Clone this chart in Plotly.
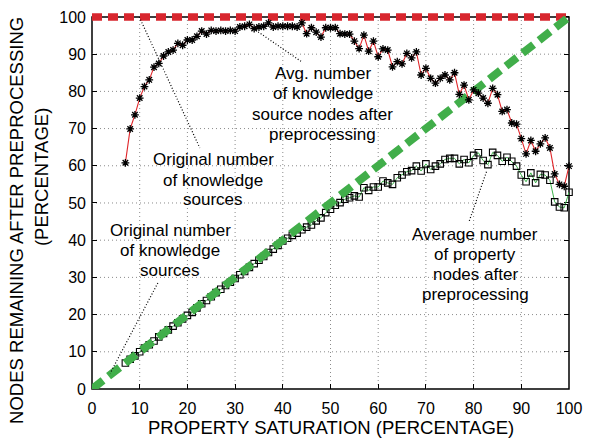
import plotly.graph_objects as go

# ---------------------------------------------------------------- data ---
# property saturation (%) of each sampled configuration
saturation = list(range(7, 101))

# average knowledge-source nodes left after preprocessing (% of original)
ks_nodes = [60.8, 69.9, 73.7, 78.2, 81.3, 83.1, 86.5, 87.5, 89.5, 90.6,
            91.1, 92.9, 92.4, 93.8, 93.8, 94.8, 96.2, 95.4, 96.4, 96.2,
            96.4, 96.2, 96.4, 96.2, 97.3, 97.5, 98.0, 96.9, 97.3, 97.5,
            98.4, 97.3, 97.5, 97.5, 97.5, 97.5, 97.3, 98.4, 95.5, 97.1,
            95.9, 94.6, 97.1, 97.1, 97.1, 95.5, 95.4, 95.4, 93.5, 91.5,
            95.1, 90.8, 93.5, 89.3, 91.4, 91.1, 86.6, 88.0, 87.4, 90.2,
            89.0, 90.6, 84.4, 86.2, 83.5, 82.2, 83.5, 84.4, 83.1, 85.0,
            79.2, 81.7, 77.7, 80.4, 79.5, 78.2, 76.8, 80.8, 79.1, 74.6,
            75.1, 71.5, 71.2, 67.3, 63.2, 66.8, 63.9, 65.9, 67.5, 64.8,
            57.8, 55.0, 54.5, 59.9]

# average property nodes left after preprocessing (%)
prop_nodes = [7.0, 8.0, 8.9, 10.0, 11.0, 11.9, 12.9, 14.0, 14.9, 15.9,
              16.9, 17.8, 18.8, 19.8, 20.6, 21.8, 22.9, 23.8, 24.8, 25.9,
              26.8, 27.8, 28.7, 29.7, 30.7, 31.6, 32.7, 33.7, 34.6, 35.6,
              36.7, 37.6, 38.6, 39.8, 40.5, 41.3, 41.9, 42.8, 43.5, 44.1,
              45.2, 46.0, 47.4, 48.3, 49.4, 50.1, 51.0, 51.4, 51.9, 51.6,
              54.1, 53.4, 54.3, 54.3, 55.9, 55.4, 55.0, 56.8, 57.5, 58.4,
              58.7, 59.9, 58.6, 60.5, 59.0, 59.9, 60.5, 61.7, 62.0, 62.0,
              60.5, 61.7, 60.8, 62.8, 63.5, 61.4, 60.3, 63.6, 62.8, 61.2,
              62.3, 61.2, 59.9, 57.5, 55.7, 58.1, 55.4, 57.7, 57.5, 56.1,
              50.3, 48.9, 48.7, 52.9]

# original (un-preprocessed) counts, as % of themselves
orig_x = [0, 100]
orig_ks = [100, 100]
orig_prop = [0, 100]

ticks = list(range(0, 101, 10))

# ---------------------------------------------------------------- style ---
FONT = "Liberation Sans, Arial, Helvetica, sans-serif"
RED = "#d8262e"
GREEN = "#41ae4a"
Y_TOP = 101.6          # a little headroom so the thick line at 100 is not clipped

fig = go.Figure()

fig.add_trace(go.Scatter(
    x=orig_x, y=orig_ks, mode="lines",
    line=dict(color=RED, width=7.5, dash="10px,6px"),
    hoverinfo="skip"))

fig.add_trace(go.Scatter(
    x=saturation, y=prop_nodes, mode="lines+markers",
    line=dict(color="#3cb44a", width=1),
    marker=dict(symbol="square-open", size=6.5, color="black",
                line=dict(color="black", width=1.1)),
    cliponaxis=False))

fig.add_trace(go.Scatter(
    x=orig_x, y=orig_prop, mode="lines",
    line=dict(color=GREEN, width=8, dash="14px,7px"),
    hoverinfo="skip"))

fig.add_trace(go.Scatter(
    x=saturation, y=ks_nodes, mode="lines+markers",
    line=dict(color="#e0262a", width=1.1),
    marker=dict(symbol="asterisk-open", size=6.5, color="black",
                line=dict(color="black", width=1.3)),
    cliponaxis=False))

# dotted grid, limited to the 0..100 frame
shapes = []
for v in ticks[1:-1]:
    shapes.append(dict(type="line", xref="x", yref="y", x0=v, x1=v, y0=0, y1=100,
                       line=dict(color="#8a8a8a", width=1, dash="1px,3px"),
                       layer="below"))
    shapes.append(dict(type="line", xref="x", yref="y", x0=0, x1=100, y0=v, y1=v,
                       line=dict(color="#8a8a8a", width=1, dash="1px,3px"),
                       layer="below"))

# plot frame
shapes.append(dict(type="rect", xref="paper", yref="paper",
                   x0=0, x1=1, y0=0, y1=100 / Y_TOP,
                   line=dict(color="black", width=1.5), layer="below"))

# leader lines for the callouts
leaders = [((9.9, 100), (22.6, 64.8)),
           ((33.8, 96.9), (43.9, 88.0)),
           ((13.8, 28.5), (3.8, 4.2)),
           ((79.1, 45.2), (82.7, 58.4))]
for (ax0, ay0), (ax1, ay1) in leaders:
    shapes.append(dict(type="line", xref="x", yref="y",
                       x0=ax0, y0=ay0, x1=ax1, y1=ay1,
                       line=dict(color="black", width=1.2, dash="1px,2px")))

# callout texts, one annotation per line
callouts = [
    (25.4, [61.7, 56.1, 51.0], ["Original number", "of knowledge", "sources"]),
    (48.4, [84.8, 79.5, 73.9, 68.4],
     ["Avg. number", "of knowledge", "source nodes after", "preprocessing"]),
    (16.4, [42.5, 37.2, 31.8], ["Original number", "of knowledge", "sources"]),
    (80.3, [41.6, 36.1, 30.7, 25.4],
     ["Average number", "of property", "nodes after", "preprocessing"]),
]
annotations = []
for cx, ys, lines in callouts:
    for yy, txt in zip(ys, lines):
        annotations.append(dict(x=cx, y=yy, xref="x", yref="y", text=txt,
                                showarrow=False, xanchor="center", yanchor="middle",
                                font=dict(family=FONT, size=17, color="black")))

# axis titles
annotations.append(dict(x=0.501, y=-0.1026, xref="paper", yref="paper",
                        text="PROPERTY SATURATION (PERCENTAGE)", showarrow=False,
                        xanchor="center", yanchor="middle",
                        font=dict(family=FONT, size=18.5, color="black")))
annotations.append(dict(x=-0.157, y=0.445, xref="paper", yref="paper",
                        text="NODES REMAINING AFTER PREPROCESSING", textangle=-90,
                        showarrow=False, xanchor="center", yanchor="middle",
                        font=dict(family=FONT, size=18.5, color="black")))
annotations.append(dict(x=-0.107, y=0.5605, xref="paper", yref="paper",
                        text="(PERCENTAGE)", textangle=-90,
                        showarrow=False, xanchor="center", yanchor="middle",
                        font=dict(family=FONT, size=18.5, color="black")))

fig.update_layout(
    width=592, height=440,
    margin=dict(l=92, r=23, t=9, b=51, pad=0),
    paper_bgcolor="white", plot_bgcolor="white",
    showlegend=False,
    shapes=shapes, annotations=annotations,
    font=dict(family=FONT, size=16, color="black"),
)
fig.update_xaxes(range=[0, 100], tickvals=ticks, showgrid=False, zeroline=False,
                 showline=False, ticks="inside", ticklen=5, tickwidth=1.2,
                 tickcolor="black", mirror=False, ticklabelstandoff=8,
                 tickfont=dict(family=FONT, size=16, color="black"),
                 layer="below traces")
fig.update_yaxes(range=[0, Y_TOP], tickvals=ticks, showgrid=False, zeroline=False,
                 showline=False, ticks="inside", ticklen=5, tickwidth=1.2,
                 tickcolor="black", mirror="allticks", ticklabelstandoff=5,
                 tickfont=dict(family=FONT, size=16, color="black"),
                 layer="below traces")

fig.write_html("out.html")
